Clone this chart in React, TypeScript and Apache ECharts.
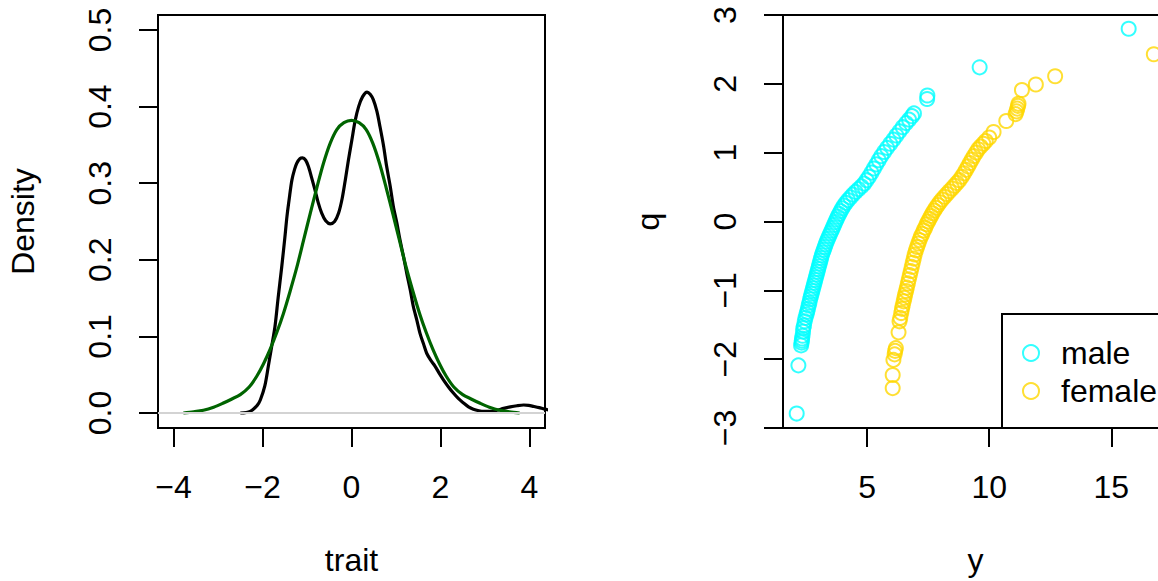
import React, { useEffect, useRef } from "react";
import * as echarts from "echarts";

// ---- Left panel: kernel density (black) and fitted normal (dark green) ----
const densityX = [-2.5, -2.28, -2.12, -2.05, -1.95, -1.87, -1.8, -1.72, -1.65, -1.57, -1.5, -1.45, -1.39, -1.34, -1.28, -1.23, -1.16, -1.1, -1.03, -0.97, -0.9, -0.82, -0.75, -0.67, -0.58, -0.48, -0.38, -0.29, -0.21, -0.14, -0.07, 0.01, 0.08, 0.16, 0.25, 0.35, 0.42, 0.49, 0.57, 0.64, 0.72, 0.79, 0.87, 0.94, 1.02, 1.09, 1.17, 1.24, 1.32, 1.39, 1.47, 1.54, 1.62, 1.69, 1.78, 1.88, 1.97, 2.07, 2.18, 2.29, 2.4, 2.52, 2.63, 2.74, 2.86, 2.97, 3.12, 3.27, 3.42, 3.57, 3.72, 3.87, 3.98, 4.09, 4.22, 4.34, 4.6];
const densityY = [0, 0.002, 0.01, 0.017, 0.035, 0.061, 0.085, 0.113, 0.15, 0.19, 0.228, 0.257, 0.284, 0.304, 0.318, 0.326, 0.332, 0.333, 0.33, 0.322, 0.308, 0.291, 0.275, 0.261, 0.251, 0.247, 0.25, 0.261, 0.28, 0.304, 0.33, 0.357, 0.381, 0.4, 0.413, 0.419, 0.416, 0.409, 0.394, 0.374, 0.349, 0.322, 0.296, 0.27, 0.248, 0.226, 0.204, 0.183, 0.161, 0.139, 0.121, 0.104, 0.09, 0.078, 0.069, 0.061, 0.052, 0.043, 0.034, 0.026, 0.019, 0.013, 0.008, 0.005, 0.003, 0.002, 0.002, 0.0035, 0.006, 0.008, 0.0095, 0.0104, 0.01, 0.0087, 0.007, 0.005, 0.002];

const normalX = [-3.78, -3.55, -3.33, -3.1, -2.88, -2.7, -2.5, -2.3, -2.13, -1.98, -1.83, -1.68, -1.53, -1.38, -1.23, -1.08, -0.93, -0.78, -0.63, -0.48, -0.33, -0.17, 0, 0.17, 0.33, 0.48, 0.63, 0.78, 0.93, 1.08, 1.23, 1.38, 1.53, 1.68, 1.83, 1.98, 2.13, 2.3, 2.5, 2.7, 2.88, 3.1, 3.33, 3.55, 3.78];
const normalY = [0, 0.0015, 0.0035, 0.0075, 0.013, 0.018, 0.024, 0.034, 0.048, 0.064, 0.083, 0.105, 0.13, 0.159, 0.19, 0.225, 0.26, 0.294, 0.326, 0.352, 0.37, 0.379, 0.382, 0.379, 0.37, 0.352, 0.326, 0.294, 0.26, 0.225, 0.19, 0.159, 0.13, 0.105, 0.083, 0.064, 0.048, 0.034, 0.024, 0.018, 0.013, 0.0075, 0.0035, 0.0015, 0];

const leftXTicks = [-4, -2, 0, 2, 4];
const leftYTicks = [0, 0.1, 0.2, 0.3, 0.4, 0.5];

// ---- Right panel: y versus normal quantile q, by sex ----
const maleY = [2.12, 2.19, 2.3, 2.32, 2.33, 2.34, 2.36, 2.38, 2.39, 2.42, 2.45, 2.48, 2.52, 2.55, 2.58, 2.61, 2.64, 2.67, 2.7, 2.73, 2.76, 2.79, 2.82, 2.85, 2.88, 2.91, 2.94, 2.97, 3.0, 3.03, 3.06, 3.09, 3.12, 3.15, 3.19, 3.23, 3.27, 3.31, 3.35, 3.4, 3.45, 3.5, 3.55, 3.6, 3.65, 3.7, 3.75, 3.8, 3.86, 3.92, 3.98, 4.05, 4.13, 4.22, 4.32, 4.42, 4.53, 4.65, 4.77, 4.88, 4.98, 5.08, 5.18, 5.28, 5.38, 5.48, 5.58, 5.7, 5.82, 5.95, 6.08, 6.2, 6.33, 6.46, 6.6, 6.72, 6.84, 6.92, 7.46, 7.47, 9.61, 15.71];
const maleQ = [-2.79, -2.09, -1.8, -1.76, -1.73, -1.7, -1.66, -1.6, -1.55, -1.51, -1.45, -1.4, -1.35, -1.31, -1.27, -1.22, -1.18, -1.13, -1.09, -1.05, -1.01, -0.97, -0.93, -0.89, -0.85, -0.81, -0.77, -0.73, -0.69, -0.65, -0.61, -0.57, -0.53, -0.49, -0.45, -0.41, -0.37, -0.33, -0.29, -0.25, -0.21, -0.17, -0.13, -0.09, -0.05, -0.01, 0.03, 0.07, 0.11, 0.15, 0.19, 0.23, 0.27, 0.31, 0.35, 0.39, 0.43, 0.47, 0.51, 0.55, 0.6, 0.65, 0.71, 0.77, 0.83, 0.89, 0.95, 1.01, 1.07, 1.13, 1.19, 1.25, 1.31, 1.37, 1.43, 1.48, 1.53, 1.57, 1.78, 1.83, 2.24, 2.8];

const femaleY = [6.05, 6.05, 6.08, 6.13, 6.15, 6.18, 6.29, 6.33, 6.36, 6.4, 6.43, 6.46, 6.5, 6.53, 6.56, 6.6, 6.63, 6.67, 6.71, 6.75, 6.79, 6.83, 6.87, 6.91, 6.95, 7.0, 7.05, 7.1, 7.15, 7.2, 7.26, 7.32, 7.38, 7.44, 7.5, 7.56, 7.62, 7.68, 7.75, 7.82, 7.9, 7.98, 8.07, 8.17, 8.27, 8.37, 8.48, 8.58, 8.68, 8.78, 8.88, 8.97, 9.05, 9.13, 9.21, 9.29, 9.37, 9.46, 9.55, 9.65, 9.76, 9.86, 10.0, 10.18, 10.7, 11.08, 11.12, 11.15, 11.18, 11.2, 11.34, 11.91, 12.7, 16.74];
const femaleQ = [-2.42, -2.23, -2.01, -1.93, -1.88, -1.84, -1.61, -1.45, -1.4, -1.33, -1.27, -1.22, -1.16, -1.11, -1.06, -1.01, -0.96, -0.9, -0.84, -0.78, -0.72, -0.66, -0.6, -0.54, -0.48, -0.42, -0.37, -0.32, -0.27, -0.22, -0.18, -0.13, -0.09, -0.04, 0.0, 0.04, 0.08, 0.12, 0.16, 0.2, 0.24, 0.28, 0.32, 0.36, 0.4, 0.44, 0.48, 0.52, 0.56, 0.6, 0.65, 0.7, 0.75, 0.8, 0.85, 0.9, 0.95, 1.0, 1.05, 1.09, 1.13, 1.17, 1.22, 1.3, 1.46, 1.56, 1.6, 1.64, 1.68, 1.71, 1.91, 1.99, 2.11, 2.43];

const rightXTicks = [5, 10, 15];
const rightYTicks = [-3, -2, -1, 0, 1, 2, 3];

const groups = ["male", "female"];
const groupColors = ["#00FFFF", "#FFD700"];

const FONT = "Liberation Sans, Arial, Helvetica, sans-serif";
const FS = 32;

const zip = (a: number[], b: number[]) => a.map((v, i) => [v, b[i]]);
const rMinus = (v: number, digits = 0) => {
  const s = Math.abs(v).toFixed(digits);
  return v < 0 ? "\u2212" + s : s;
};

export default function App() {
  const ref = useRef<HTMLDivElement>(null);

  useEffect(() => {
    if (!ref.current) return;
    const chart = echarts.init(ref.current, null, { renderer: "svg" });

    const tick = { show: true, length: 19, lineStyle: { color: "#000", width: 2 } };
    const label = { fontSize: FS, color: "#000", fontFamily: FONT };
    const noLine = { show: false, onZero: false };
    const nameStyle = { fontSize: FS, color: "#000", fontFamily: FONT };
    const xNameStyle = { fontSize: FS, color: "#000", fontFamily: FONT, lineHeight: 26 };
    const gridBase = {
      top: 15, height: 413, show: true, borderColor: "#000", borderWidth: 2,
      backgroundColor: "transparent", containLabel: false, outerBoundsMode: "none",
    };

    chart.setOption({
      animation: false,
      textStyle: { fontFamily: FONT, color: "#000" },
      grid: [
        { ...gridBase, left: 158, width: 387 },
        { ...gridBase, left: 783, width: 385 },
      ],
      xAxis: [
        {
          type: "value", gridIndex: 0, min: -4.35, max: 4.35,
          axisLine: noLine, splitLine: { show: false },
          axisTick: { ...tick, customValues: leftXTicks },
          axisLabel: { ...label, margin: 43, customValues: leftXTicks, formatter: (v: number) => rMinus(v) },
          name: "trait", nameLocation: "middle", nameGap: 119, nameTextStyle: xNameStyle,
        },
        {
          type: "value", gridIndex: 1, min: 1.56, max: 17.32,
          axisLine: noLine, splitLine: { show: false },
          axisTick: { ...tick, customValues: rightXTicks },
          axisLabel: { ...label, margin: 43, customValues: rightXTicks, formatter: (v: number) => rMinus(v) },
          name: "y", nameLocation: "middle", nameGap: 119, nameTextStyle: xNameStyle,
        },
      ],
      yAxis: [
        {
          type: "value", gridIndex: 0, min: -0.0196, max: 0.5196,
          axisLine: noLine, splitLine: { show: false },
          axisTick: { ...tick, customValues: leftYTicks },
          axisLabel: { ...label, margin: 42, rotate: 90, customValues: leftYTicks, formatter: (v: number) => rMinus(v, 1) },
          name: "Density", nameLocation: "middle", nameGap: 119, nameRotate: 90, nameTextStyle: nameStyle,
        },
        {
          type: "value", gridIndex: 1, min: -3, max: 3,
          axisLine: noLine, splitLine: { show: false },
          axisTick: { ...tick, customValues: rightYTicks },
          axisLabel: { ...label, margin: 42, rotate: 90, customValues: rightYTicks, formatter: (v: number) => rMinus(v) },
          name: "q", nameLocation: "middle", nameGap: 119, nameRotate: 90, nameTextStyle: nameStyle,
        },
      ],
      legend: {
        data: groups,
        orient: "vertical",
        left: 1022,
        top: 337,
        padding: 0,
        itemWidth: 50,
        itemHeight: 16,
        itemGap: 6,
        textStyle: { fontSize: FS, color: "#000", fontFamily: FONT, padding: 0 },
        selectedMode: false,
      },
      graphic: [
        {
          type: "rect",
          shape: { x: 1002, y: 314, width: 200, height: 114 },
          style: { fill: "none", stroke: "#000", lineWidth: 2 },
          z: 3,
        },
      ],
      series: [
        {
          name: "zero",
          type: "line",
          xAxisIndex: 0, yAxisIndex: 0,
          data: [],
          silent: true,
          markLine: {
            silent: true,
            symbol: ["none", "none"],
            label: { show: false },
            lineStyle: { color: "#D3D3D3", width: 2, type: "solid" },
            data: [{ yAxis: 0 }],
          },
        },
        {
          name: "density",
          type: "line",
          xAxisIndex: 0, yAxisIndex: 0,
          data: zip(densityX, densityY),
          showSymbol: false,
          smooth: 0.3,
          clip: true,
          lineStyle: { color: "#000", width: 3.2 },
        },
        {
          name: "normal",
          type: "line",
          xAxisIndex: 0, yAxisIndex: 0,
          data: zip(normalX, normalY),
          showSymbol: false,
          smooth: 0.3,
          clip: true,
          lineStyle: { color: "#006400", width: 3.2 },
        },
        {
          name: groups[0],
          type: "scatter",
          xAxisIndex: 1, yAxisIndex: 1,
          data: zip(maleY, maleQ),
          symbol: "circle",
          symbolSize: 14,
          itemStyle: { color: "rgba(0,0,0,0)", borderColor: groupColors[0], borderWidth: 2 },
        },
        {
          name: groups[1],
          type: "scatter",
          xAxisIndex: 1, yAxisIndex: 1,
          data: zip(femaleY, femaleQ),
          symbol: "circle",
          symbolSize: 14,
          itemStyle: { color: "rgba(0,0,0,0)", borderColor: groupColors[1], borderWidth: 2 },
        },
      ],
    });

    return () => chart.dispose();
  }, []);

  return (
    <div style={{ position: "absolute", left: 0, top: 0, width: 1158, height: 581, overflow: "hidden", background: "#fff" }}>
      <div ref={ref} style={{ width: 1200, height: 581 }} />
    </div>
  );
}
